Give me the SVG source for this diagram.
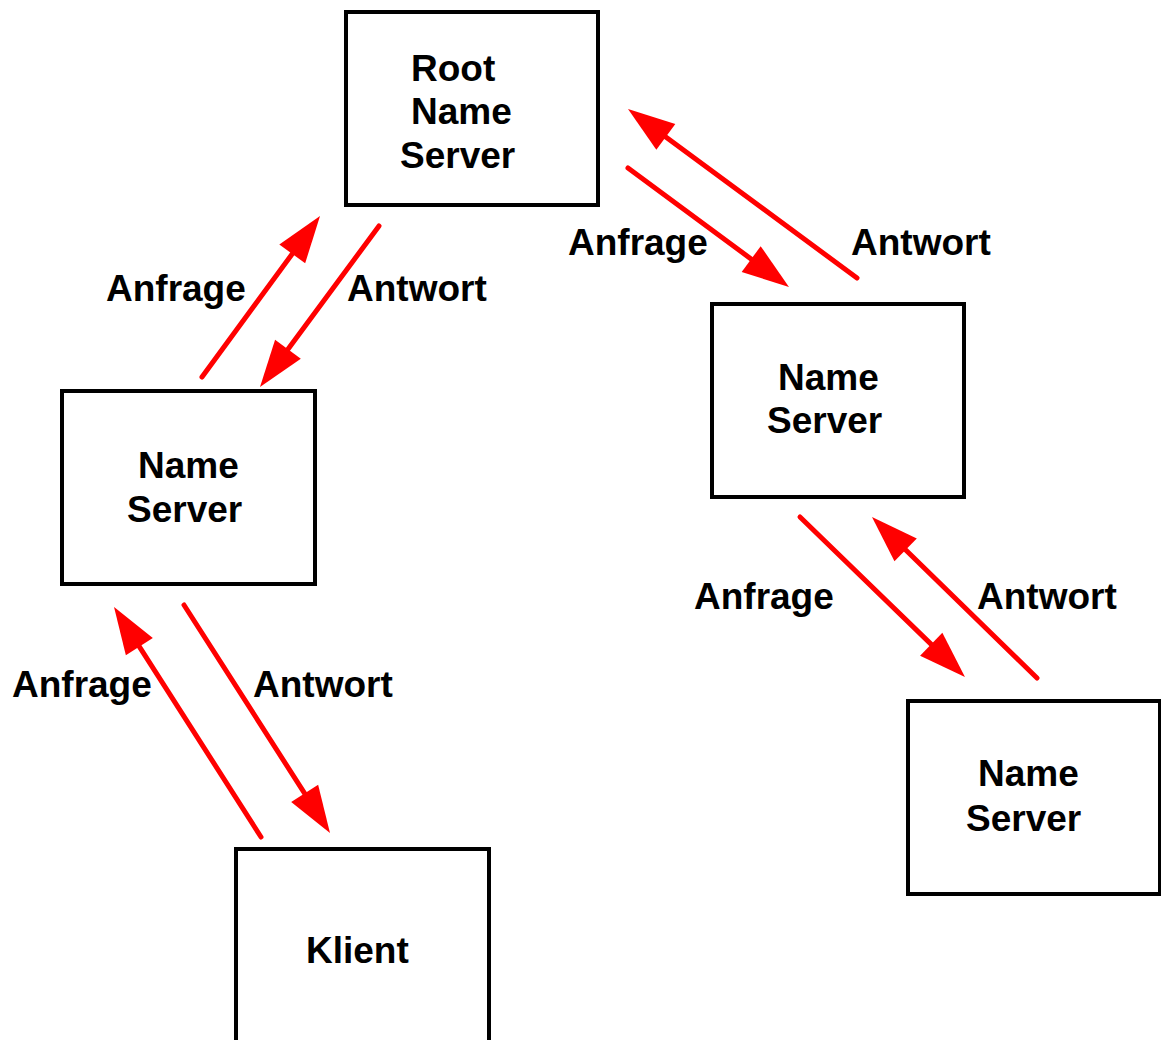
<svg xmlns="http://www.w3.org/2000/svg" width="1161" height="1040" viewBox="0 0 1161 1040">
<style>
.box{fill:#fff;stroke:#000;stroke-width:4}
.t{font-family:"Liberation Sans",Arial,sans-serif;font-weight:bold;font-size:37px;fill:#000}
.c{stroke:#f00;stroke-width:5;stroke-linecap:round;fill:none;marker-end:url(#ah)}
</style>
<defs>
<marker id="ah" markerUnits="userSpaceOnUse" viewBox="-30 -20 60 40" markerWidth="60" markerHeight="40" refX="0" refY="0" orient="auto" overflow="visible">
<path d="M20 0 L-27 -16 L-27 16 Z" fill="#f00"/>
</marker>
</defs>
<rect width="1161" height="1040" fill="#fff"/>
<g id="root">
<rect class="box" x="346" y="12" width="252" height="193"/>
<text class="t" x="411" y="81">Root</text>
<text class="t" x="411" y="124">Name</text>
<text class="t" x="400" y="168">Server</text>
</g>
<g id="ns-left">
<rect class="box" x="62" y="391" width="253" height="193"/>
<text class="t" x="138" y="478">Name</text>
<text class="t" x="127" y="522">Server</text>
</g>
<g id="ns-right">
<rect class="box" x="712" y="304" width="252" height="193"/>
<text class="t" x="778" y="390">Name</text>
<text class="t" x="767" y="433">Server</text>
</g>
<g id="ns-bottom-right">
<rect class="box" x="908" y="701" width="252" height="193"/>
<text class="t" x="978" y="786">Name</text>
<text class="t" x="966" y="831">Server</text>
</g>
<g id="klient">
<rect class="box" x="236" y="849" width="253" height="200"/>
<text class="t" x="306" y="963">Klient</text>
</g>
<g id="connectors">
<line class="c" x1="202" y1="377" x2="308.2" y2="232.1"/>
<line class="c" x1="379" y1="226" x2="271.9" y2="370.9"/>
<line class="c" x1="628" y1="168" x2="772.9" y2="275.1"/>
<line class="c" x1="857" y1="278" x2="644.1" y2="120.9"/>
<line class="c" x1="261" y1="837" x2="124.8" y2="623.8"/>
<line class="c" x1="184" y1="605" x2="319.2" y2="816.2"/>
<line class="c" x1="800" y1="517" x2="950.6" y2="663.1"/>
<line class="c" x1="1037" y1="678" x2="886.3" y2="531"/>
<text class="t" x="106" y="301">Anfrage</text>
<text class="t" x="347" y="301">Antwort</text>
<text class="t" x="568" y="255">Anfrage</text>
<text class="t" x="851" y="255">Antwort</text>
<text class="t" x="12" y="697">Anfrage</text>
<text class="t" x="253" y="697">Antwort</text>
<text class="t" x="694" y="609">Anfrage</text>
<text class="t" x="977" y="609">Antwort</text>
</g>
</svg>
